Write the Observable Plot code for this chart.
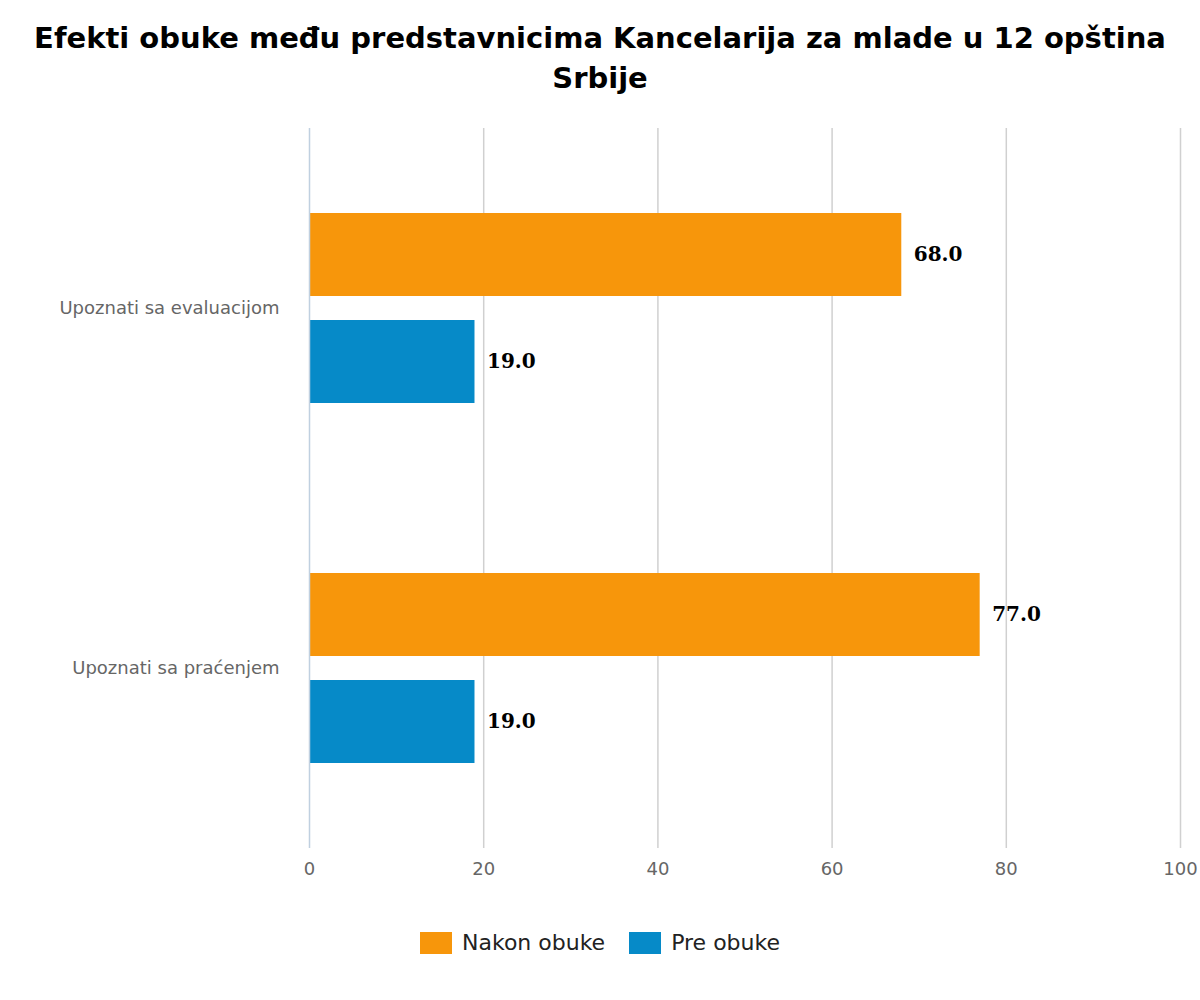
<!DOCTYPE html>
<html><head><meta charset="utf-8">
<script src="https://cdn.jsdelivr.net/npm/d3@7"></script>
<script src="https://cdn.jsdelivr.net/npm/@observablehq/plot@0.6"></script>
<style>
body{margin:0;background:#fff;font-family:"DejaVu Sans",sans-serif;}
#title{width:1200px;height:110px;overflow:hidden;white-space:nowrap;text-align:center;font-weight:bold;font-size:29px;line-height:40px;padding-top:18px;box-sizing:border-box;display:flex;flex-direction:column;align-items:center;}
#legend{display:flex;justify-content:center;gap:24px;font-size:22px;color:#222;margin-top:30px;}
#legend span{display:inline-flex;align-items:center;gap:10px;}
#legend i{display:inline-block;width:32px;height:22px;}
</style></head><body>
<div id="title"><div>Efekti obuke među predstavnicima Kancelarija za mlade u 12 opština</div><div>Srbije</div></div>
<div id="chart"></div>
<div id="legend"></div>
<script>
const categories = ["Upoznati sa evaluacijom", "Upoznati sa praćenjem"];
const series = ["Nakon obuke", "Pre obuke"];
const nakon = [68.0, 77.0];
const pre = [19.0, 19.0];
const colors = ["#f7960b", "#068ac8"];
const xTicks = [0, 20, 40, 60, 80, 100];

const data = [];
categories.forEach((c, i) => {
  data.push({cat: c, s: series[0], v: nakon[i]});
  data.push({cat: c, s: series[1], v: pre[i]});
});

const chart = Plot.plot({
  width: 1200, height: 790,
  marginLeft: 309, marginRight: 20, marginTop: 18, marginBottom: 52,
  style: {fontFamily: "DejaVu Sans", fontSize: "18px", color: "#666"},
  x: {domain: [0, 100], ticks: xTicks, grid: false, label: null, tickSize: 0, tickPadding: 14},
  fy: {domain: categories, label: null, padding: 0, axis: "left", tickSize: 0, tickPadding: 30},
  y: {domain: series, axis: null, paddingInner: 0.222, paddingOuter: 0.778},
  color: {domain: series, range: colors},
  marks: [
    Plot.ruleX(xTicks.filter(d => d > 0), {stroke: "#d0d0d0", strokeWidth: 1.5}),
    Plot.barX(data, {fy: "cat", y: "s", x: "v", fill: "s"}),
    Plot.text(data, {fy: "cat", y: "s", x: "v", text: d => d.v.toFixed(1), textAnchor: "start", dx: 12,
      fill: "#000", fontWeight: "bold", fontSize: 20, fontFamily: "DejaVu Serif"}),
    Plot.ruleX([0], {stroke: "#c0d0e0", strokeWidth: 1.5})
  ]
});
document.getElementById("chart").appendChild(chart);

const lg = document.getElementById("legend");
series.forEach((s, i) => {
  const sp = document.createElement("span");
  sp.innerHTML = `<i style="background:${colors[i]}"></i>${s}`;
  lg.appendChild(sp);
});
</script>
</body></html>
